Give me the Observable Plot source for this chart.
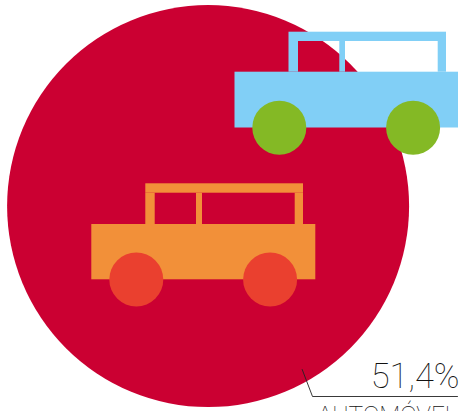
<!DOCTYPE html>
<html><head><meta charset="utf-8">
<script src="https://cdn.jsdelivr.net/npm/d3@7"></script>
<script src="https://cdn.jsdelivr.net/npm/@observablehq/plot@0.6"></script>
<style>html,body{margin:0;padding:0;background:#fff;overflow:hidden}svg{display:block}</style>
</head><body><div id="c"></div>
<script>
const W = 462, H = 411;
const shareLabel = ["51,4%"];
const categoryLabel = ["AUTOMÓVEL"];
const bubble = [{x: 207.6, y: 205.6, r: 201}];
const leader = [{x: 301.7, y: 369}, {x: 312, y: 396}, {x: 457, y: 396}];
const carBlue = {body: "#81cff6", wheel: "#84b925"};
const carOrange = {body: "#f29039", wheel: "#ea402f"};
const blueBlocks = [
  {x1: 234.5, x2: 458, y1: 71.7, y2: 127.5},
  {x1: 288.5, x2: 446, y1: 31.7, y2: 41},
  {x1: 288.5, x2: 298, y1: 41, y2: 71.7},
  {x1: 339.3, x2: 345, y1: 41, y2: 71.7},
  {x1: 437.7, x2: 446, y1: 41, y2: 71.7}
];
const orangeBlocks = [
  {x1: 91.3, x2: 315.3, y1: 224, y2: 279.3},
  {x1: 145.3, x2: 303, y1: 183.3, y2: 192.7},
  {x1: 145.3, x2: 154.7, y1: 192.7, y2: 224},
  {x1: 196, x2: 202, y1: 192.7, y2: 224},
  {x1: 294.7, x2: 303, y1: 192.7, y2: 224}
];
const blueWheels = [{x: 278.8, y: 127.2, r: 27}, {x: 412.6, y: 127.2, r: 27}];
const orangeWheels = [{x: 135.8, y: 279, r: 27}, {x: 269.6, y: 279, r: 27}];

const rects = (data, fill) => Plot.rect(data, {x1: "x1", x2: "x2", y1: "y1", y2: "y2", fill, inset: 0});
const dots = (data, fill) => Plot.dot(data, {x: "x", y: "y", r: "r", fill, stroke: "none"});

const chart = Plot.plot({
  width: W, height: H,
  margin: 0,
  x: {domain: [0, W], range: [0, W], axis: null},
  y: {domain: [0, H], range: [0, H], axis: null},
  r: {type: "identity"},
  style: {background: "#fff"},
  marks: [
    dots(bubble, "#cb0032"),
    rects(orangeBlocks, carOrange.body),
    dots(orangeWheels, carOrange.wheel),
    rects(blueBlocks, carBlue.body),
    dots(blueWheels, carBlue.wheel),
    Plot.line(leader, {x: "x", y: "y", stroke: "#222", strokeWidth: 0.9}),
    Plot.text(shareLabel, {x: () => 459, y: () => 376, text: d => d, textAnchor: "end", fontFamily: "Roboto", fontWeight: 100, fontSize: 34.5, fill: "#111"}),
    Plot.text(categoryLabel, {x: () => 457, y: () => 414.5, text: d => d, textAnchor: "end", fontFamily: "Roboto", fontWeight: 100, fontSize: 24.5, fill: "#111"})
  ]
});
document.getElementById("c").append(chart);
</script></body></html>
